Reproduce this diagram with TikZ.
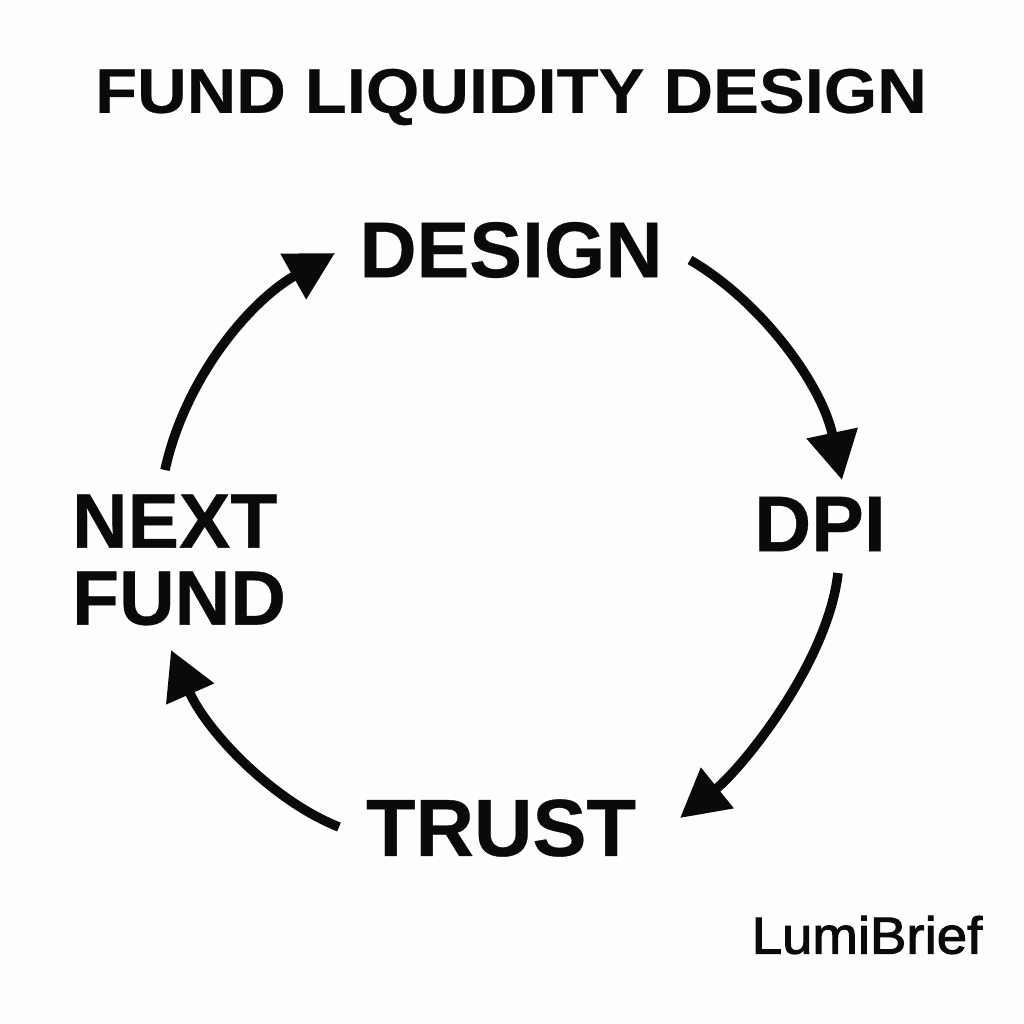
\documentclass[tikz,border=0pt]{standalone}
\usepackage{fontspec}
\setmainfont{Liberation Sans}[BoldFont={Liberation Sans Bold}]
\newfontfamily\titlefont{Liberation Sans Bold}[FakeStretch=1.09,FakeBold=0.4]
\newfontfamily\stepfont{Liberation Sans Bold}[FakeBold=0.4]
\newfontfamily\brandfont{Liberation Sans}[FakeStretch=1.05,FakeBold=2]
\usetikzlibrary{arrows.meta}
\definecolor{ink}{HTML}{0A0A0A}
\definecolor{paper}{HTML}{FDFDFB}
\tikzset{
  flowarc/.style={draw=ink,line width=9.5pt,-{Triangle[length=48pt,width=50pt]}},
  titletext/.style={inner sep=0pt,text=ink,font=\fontsize{63}{63}\selectfont\titlefont},
  steptext/.style={inner sep=0pt,text=ink,align=left,font=\fontsize{79}{77}\selectfont\stepfont},
  brandtext/.style={inner sep=0pt,text=ink,font=\fontsize{52}{52}\selectfont\brandfont}
}
\begin{document}
\begin{tikzpicture}[x=1pt,y=-1pt]
\fill[paper] (0,0) rectangle (1024,1024);
\useasboundingbox (0,0) rectangle (1024,1024);
\node[titletext] (title) at (511,97) {FUND LIQUIDITY DESIGN};
\node[steptext] (design) at (511,250) {DESIGN};
\node[steptext] (dpi) at (820,524) {DPI};
\node[steptext,font=\fontsize{81}{81}\selectfont\stepfont] (trust) at (501,828) {TRUST};
\node[steptext,font=\fontsize{77}{77}\selectfont\stepfont] (next) at (179,560) {NEXT\\FUND};
\node[brandtext] (brand) at (867,935) {LumiBrief};
\draw[flowarc] ([shift={(179,10)}]design.center) .. controls +(72,42) and +(-20,-95) .. ([shift={(22,-44)}]dpi.center);
\draw[flowarc] ([shift={(18,49)}]dpi.center) .. controls +(-10,90) and +(62,-50) .. ([shift={(179,-10)}]trust.center);
\draw[flowarc] ([shift={(-162,-1)}]trust.center) .. controls +(-68,-27) and +(35,80) .. ([shift={(-8,90)}]next.center);
\draw[flowarc] ([shift={(-14,-90)}]next.center) .. controls +(20,-92) and +(-85,48) .. ([shift={(-176,3)}]design.center);
\end{tikzpicture}
\end{document}
